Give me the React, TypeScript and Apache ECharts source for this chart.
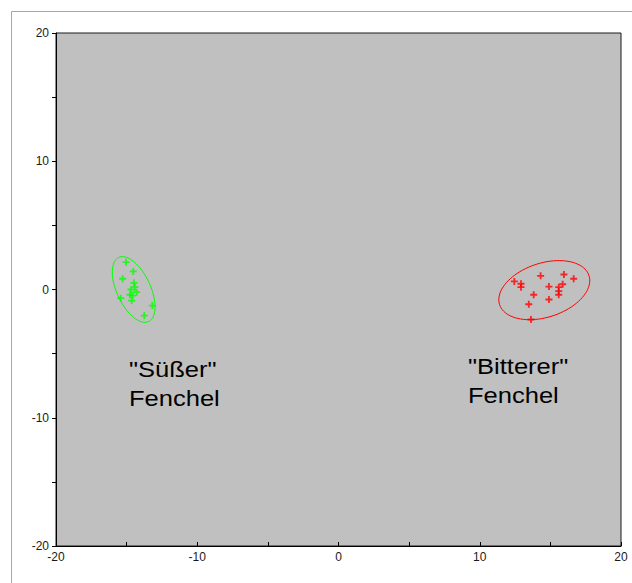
import React, { useEffect, useRef } from "react";
import * as echarts from "echarts";

// "Süßer" Fenchel (green) scores
const sweetX = [-15.04, -14.53, -15.28, -14.48, -14.41, -14.69, -14.29, -14.76, -14.57, -15.42, -14.64, -13.18, -13.75];
const sweetY = [2.13, 1.41, 0.84, 0.52, 0.18, 0.0, -0.21, -0.41, -0.47, -0.68, -0.86, -1.25, -2.03];

// "Bitterer" Fenchel (red) scores
const bitterX = [12.45, 12.92, 12.92, 14.31, 15.96, 16.65, 15.87, 14.9, 15.59, 15.59, 15.59, 13.82, 14.9, 13.47, 13.63];
const bitterY = [0.63, 0.45, 0.18, 1.07, 1.17, 0.84, 0.41, 0.23, 0.18, -0.13, -0.41, -0.41, -0.78, -1.15, -2.34];

// confidence ellipses: [centerX, centerY, axis1X, axis1Y, axis2X, axis2Y]
const sweetEllipse = [-14.5, 0.0, 1.06, -2.5, 1.08, 0.56];
const bitterEllipse = [14.57, -0.05, 3.165, 1.133, 0.59, -2.007];

const axisMin = -20;
const axisMax = 20;
const tickStep = 5;
const labelStep = 10;

const groupLabels = ['"Süßer"\nFenchel', '"Bitterer"\nFenchel'];

const plusSymbol = "path://M2.6,0H4.4V2.6H7V4.4H4.4V7H2.6V4.4H0V2.6H2.6Z";

export default function App() {
  const ref = useRef<HTMLDivElement>(null);

  useEffect(() => {
    if (!ref.current) return;
    const chart = echarts.init(ref.current, undefined, { renderer: "svg" });

    const pts = (xs: number[], ys: number[]) => xs.map((x, i) => [x, ys[i]]);

    const ellipseRender = (params: any, api: any) => {
      const cx = api.value(0);
      const cy = api.value(1);
      const ux = api.value(2);
      const uy = api.value(3);
      const vx = api.value(4);
      const vy = api.value(5);
      const color = api.visual("color");
      const points: number[][] = [];
      const n = 90;
      for (let k = 0; k <= n; k++) {
        const t = (k / n) * Math.PI * 2;
        const x = cx + ux * Math.cos(t) + vx * Math.sin(t);
        const y = cy + uy * Math.cos(t) + vy * Math.sin(t);
        points.push(api.coord([x, y]));
      }
      return {
        type: "polyline",
        shape: { points },
        style: { stroke: color, fill: "none", lineWidth: 1 },
      };
    };

    const labelFmt = (v: number) => (v % labelStep === 0 ? String(v) : "");
    const labelStyle = {
      color: "#1a1a1a",
      fontFamily: "Liberation Sans, Arial, sans-serif",
      fontSize: 12,
    };

    const bigText = (text: string, x: number, y: number) => ({
      type: "text",
      x,
      y,
      scaleX: 1.16,
      style: {
        text,
        fill: "#000",
        fontSize: 22,
        lineHeight: 29,
        fontFamily: "Liberation Sans, Arial, sans-serif",
        verticalAlign: "top",
      },
    });

    chart.setOption({
      animation: false,
      backgroundColor: "#ffffff",
      grid: {
        left: 56,
        top: 33,
        right: 11,
        bottom: 37,
        show: true,
        backgroundColor: "#c0c0c0",
        borderColor: "#1a1a1a",
        borderWidth: 1,
      },
      xAxis: {
        type: "value",
        min: axisMin,
        max: axisMax,
        interval: tickStep,
        splitLine: { show: false },
        axisLine: { show: true, onZero: false, lineStyle: { color: "#000", width: 1 } },
        axisTick: { show: true, inside: true, length: 4, lineStyle: { color: "#000" } },
        axisLabel: { ...labelStyle, margin: 5, formatter: labelFmt, showMinLabel: true, showMaxLabel: true },
      },
      yAxis: {
        type: "value",
        min: axisMin,
        max: axisMax,
        interval: tickStep,
        splitLine: { show: false },
        axisLine: { show: true, onZero: false, lineStyle: { color: "#000", width: 1 } },
        axisTick: { show: true, inside: false, length: 4, lineStyle: { color: "#000" } },
        axisLabel: { ...labelStyle, margin: 7, formatter: labelFmt, showMinLabel: true, showMaxLabel: true },
      },
      series: [
        {
          type: "scatter",
          data: pts(sweetX, sweetY),
          symbol: plusSymbol,
          symbolSize: 7,
          itemStyle: { color: "#00ff00" },
        },
        {
          type: "scatter",
          data: pts(bitterX, bitterY),
          symbol: plusSymbol,
          symbolSize: 7,
          itemStyle: { color: "#ff0000" },
        },
        {
          type: "custom",
          renderItem: ellipseRender,
          data: [sweetEllipse],
          itemStyle: { color: "#00ff00" },
          encode: { x: 0, y: 1 },
          clip: false,
        },
        {
          type: "custom",
          renderItem: ellipseRender,
          data: [bitterEllipse],
          itemStyle: { color: "#ff0000" },
          encode: { x: 0, y: 1 },
          clip: false,
        },
      ],
      graphic: [
        {
          type: "line",
          shape: { x1: 11.5, y1: 11.5, x2: 632, y2: 11.5 },
          style: { stroke: "#a8a8a8", lineWidth: 1 },
          silent: true,
        },
        {
          type: "line",
          shape: { x1: 11.5, y1: 11.5, x2: 11.5, y2: 583 },
          style: { stroke: "#a8a8a8", lineWidth: 1 },
          silent: true,
        },
        bigText(groupLabels[0], 129, 354.6),
        bigText(groupLabels[1], 468, 351.6),
      ],
    });

    return () => chart.dispose();
  }, []);

  return (
    <div
      ref={ref}
      style={{ position: "fixed", left: 0, top: 0, width: 632, height: 583 }}
    />
  );
}
